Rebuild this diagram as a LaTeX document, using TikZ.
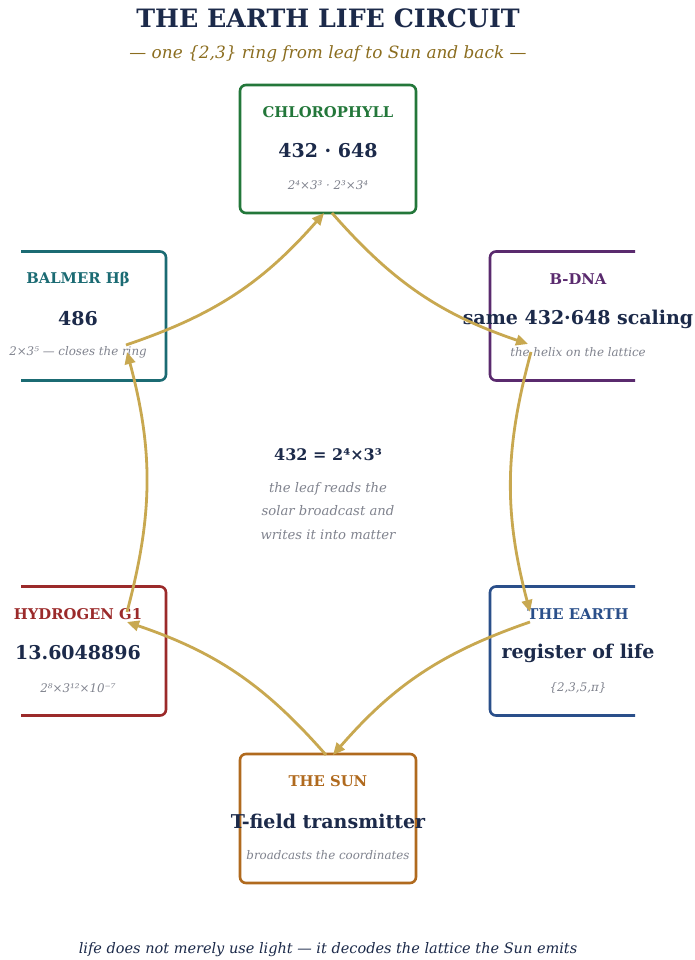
\documentclass[tikz,border=0pt]{standalone}
\usepackage{fontspec}
\setmainfont{DejaVu Serif}
\usetikzlibrary{arrows.meta,calc}
\definecolor{navy}{HTML}{1C2A4A}
\definecolor{cgreen}{HTML}{23773A}
\definecolor{cteal}{HTML}{1B6B73}
\definecolor{cpurple}{HTML}{5A2A6E}
\definecolor{cred}{HTML}{9B2A2A}
\definecolor{cblue}{HTML}{2A4F8A}
\definecolor{corange}{HTML}{B06A1E}
\definecolor{gold}{HTML}{C8A850}
\definecolor{subgold}{HTML}{8B6D1F}
\definecolor{cgray}{HTML}{80838E}
\begin{document}
\begin{tikzpicture}[x=1pt,y=1pt,
  box/.style={draw, line width=2.6pt, rounded corners=6pt, minimum width=176pt, minimum height=129pt, inner sep=0pt, fill=white},
  lbl/.style={font=\bfseries\fontsize{14.8}{17}\selectfont, inner sep=0pt},
  val/.style={font=\bfseries\fontsize{19}{22}\selectfont, text=navy, inner sep=0pt},
  sub/.style={font=\itshape\fontsize{11.85}{14}\selectfont, text=cgray, inner sep=0pt},
  ring/.style={draw=gold, line width=2.8pt, -{Triangle[length=12pt,width=10.5pt]}, bend right=15}
]
\useasboundingbox (0,0) rectangle (695,960);
\fill[white] (0,0) rectangle (695,960);

% title
\node[font=\bfseries\fontsize{25.3}{30}\selectfont, text=navy] (title) at (328,942) {THE EARTH LIFE CIRCUIT};
\node[font=\itshape\fontsize{16.9}{20}\selectfont, text=subgold] (subtitle) at (328,906) {— one \{2,3\} ring from leaf to Sun and back —};

% boxes (clipped at the sides)
\begin{scope}
\clip (21,0) rectangle (635,960);
\node[box, draw=cgreen, minimum height=128pt] (chl) at (328,811) {};
\node[box, draw=cteal] (balmer) at (78,644) {};
\node[box, draw=cpurple] (bdna) at (578,644) {};
\node[box, draw=cred] (hyd) at (78,309) {};
\node[box, draw=cblue] (earth) at (578,309) {};
\node[box, draw=corange] (sun) at (328,141.5) {};
\end{scope}

% texts
\node[lbl, text=cgreen] (chl-l) at ($(chl.center)+(0,37)$) {CHLOROPHYLL};
\node[val] (chl-v) at ($(chl.center)+(0,-2)$) {432 · 648};
\node[sub] (chl-s) at ($(chl.center)+(0,-36)$) {2⁴×3³ · 2³×3⁴};

\node[lbl, text=cteal] (balmer-l) at ($(balmer.center)+(0,37)$) {BALMER Hβ};
\node[val] (balmer-v) at ($(balmer.center)+(0,-3)$) {486};
\node[sub] (balmer-s) at ($(balmer.center)+(0,-36)$) {2×3⁵ — closes the ring};

\node[lbl, text=cpurple] (bdna-l) at ($(bdna.center)+(0,37)$) {B-DNA};
\node[val] (bdna-v) at ($(bdna.center)+(0,-3)$) {same 432·648 scaling};
\node[sub] (bdna-s) at ($(bdna.center)+(0,-36)$) {the helix on the lattice};

\node[lbl, text=cred] (hyd-l) at ($(hyd.center)+(0,37)$) {HYDROGEN G1};
\node[val] (hyd-v) at ($(hyd.center)+(0,-2)$) {13.6048896};
\node[sub] (hyd-s) at ($(hyd.center)+(0,-37)$) {2⁸×3¹²×10⁻⁷};

\node[lbl, text=cblue] (earth-l) at ($(earth.center)+(0,37)$) {THE EARTH};
\node[val] (earth-v) at ($(earth.center)+(0,-2)$) {register of life};
\node[sub] (earth-s) at ($(earth.center)+(0,-37)$) {\{2,3,5,π\}};

\node[lbl, text=corange] (sun-l) at ($(sun.center)+(0,37.5)$) {THE SUN};
\node[val] (sun-v) at ($(sun.center)+(0,-2.5)$) {T-field transmitter};
\node[sub] (sun-s) at ($(sun.center)+(0,-36.5)$) {broadcasts the coordinates};

% centre
\node[font=\bfseries\fontsize{16}{19}\selectfont, text=navy] (c1) at (328,505) {432 = 2⁴×3³};
\node[font=\itshape\fontsize{13.2}{16}\selectfont, text=cgray, align=center] (c2) at (328,449) {the leaf reads the\\[7.5pt]solar broadcast and\\[7.5pt]writes it into matter};

% footer
\node[font=\itshape\fontsize{14.5}{18}\selectfont, text=navy] (footer) at (328,10) {life does not merely use light — it decodes the lattice the Sun emits};

% connector end points
\coordinate (chl-in) at ($(chl.center)+(-4,-64)$);
\coordinate (chl-out) at ($(chl.center)+(4,-64)$);
\coordinate (bdna-in) at ($(bdna.center)+(-50,-28)$);
\coordinate (bdna-out) at ($(bdna.center)+(-47,-36)$);
\coordinate (earth-in) at ($(earth.center)+(-48,39)$);
\coordinate (earth-out) at ($(earth.center)+(-48,29)$);
\coordinate (sun-in) at ($(sun.center)+(5,63.5)$);
\coordinate (sun-out) at ($(sun.center)+(-2,63.5)$);
\coordinate (hyd-in) at ($(hyd.center)+(49,29)$);
\coordinate (hyd-out) at ($(hyd.center)+(49,39)$);
\coordinate (balmer-in) at ($(balmer.center)+(49,-36)$);
\coordinate (balmer-out) at ($(balmer.center)+(48,-29)$);

% ring
\draw[ring] (sun-out) to (hyd-in);
\draw[ring] (hyd-out) to (balmer-in);
\draw[ring] (balmer-out) to (chl-in);
\draw[ring] (chl-out) to (bdna-in);
\draw[ring] (bdna-out) to (earth-in);
\draw[ring] (earth-out) to (sun-in);
\end{tikzpicture}
\end{document}
